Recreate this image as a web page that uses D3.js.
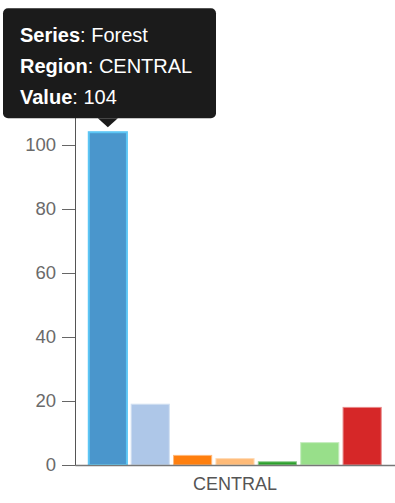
<!DOCTYPE html>
<html>
<head>
<meta charset="utf-8">
<script src="https://cdn.jsdelivr.net/npm/d3@7"></script>
<style>
  html, body { margin: 0; padding: 0; background: #fff; }
  svg { display: block; font-family: "Liberation Sans", Arial, sans-serif; }
</style>
</head>
<body>
<svg id="chart" width="395" height="503"></svg>
<script>
const regions = ["CENTRAL"];
const series = ["Forest", "Grassland", "Shrubland", "Wetland", "Water", "Cropland", "Urban"];
const values = [104, 19, 3, 2, 1, 7, 18];
const colors = ["#1f77b4", "#aec7e8", "#ff7f0e", "#ffbb78", "#2ca02c", "#98df8a", "#d62728"];
const yTicks = [0, 20, 40, 60, 80, 100, 120];
const hovered = { series: "Forest", region: "CENTRAL" };

const svg = d3.select("#chart");
const margin = { left: 75, right: 0, top: 81, bottom: 38 };
const W = 395, H = 503;
const FONT = "Liberation Sans, Arial, sans-serif";

const x0 = d3.scaleBand().domain(regions).range([margin.left, W - margin.right]).padding(0.045);
const x1 = d3.scaleBand().domain(series).range([0, x0.bandwidth()]).paddingInner(0.1).paddingOuter(0);
const y = d3.scaleLinear().domain([0, 120]).range([H - margin.bottom, margin.top]);
const color = d3.scaleOrdinal().domain(series).range(colors);

// y axis
const yAxis = svg.append("g")
  .attr("transform", `translate(${margin.left},0)`)
  .call(d3.axisLeft(y).tickValues(yTicks).tickSize(13).tickPadding(6));
yAxis.selectAll("text").attr("font-size", 18.5).attr("fill", "#6a6a6a").attr("font-family", FONT);
yAxis.selectAll("line").attr("stroke", "#666");
yAxis.select(".domain").attr("stroke", "#555");

// bars
const data = regions.map(r => ({ region: r, items: series.map((s, i) => ({ series: s, value: values[i], region: r })) }));
const isHov = d => d.series === hovered.series && d.region === hovered.region;
const groups = svg.append("g").selectAll("g").data(data).join("g")
  .attr("transform", d => `translate(${x0(d.region)},0)`);
groups.selectAll("rect").data(d => d.items).join("rect")
  .attr("x", d => x1(d.series))
  .attr("y", d => y(d.value))
  .attr("width", x1.bandwidth())
  .attr("height", d => y(0) - y(d.value))
  .attr("fill", d => isHov(d) ? "#4a96cc" : color(d.series))
  .attr("stroke", d => isHov(d) ? "#5cc6f5" : d3.interpolateRgb(color(d.series), "#fff")(0.45))
  .attr("stroke-width", d => isHov(d) ? 2 : 1);

// x axis
const xAxis = svg.append("g")
  .attr("transform", `translate(0,${y(0)})`)
  .call(d3.axisBottom(x0).tickSize(0).tickPadding(12));
xAxis.selectAll("text").attr("font-size", 18).attr("fill", "#555").attr("font-family", FONT);
xAxis.select(".domain").attr("stroke", "#777").attr("stroke-width", 1.5);

// tooltip
const hi = series.indexOf(hovered.series);
const cx = x0(hovered.region) + x1(hovered.series) + x1.bandwidth() / 2;
const tipY = y(values[hi]) - 5;
const arrowH = 9, boxW = 213, boxH = 110;
const bx = 3, by = tipY - arrowH - boxH;
const tip = svg.append("g");
tip.append("rect").attr("x", bx).attr("y", by).attr("width", boxW).attr("height", boxH)
  .attr("rx", 5).attr("fill", "#1b1b1b");
tip.append("path").attr("d", `M${cx - 10},${by + boxH} L${cx},${tipY} L${cx + 10},${by + boxH} Z`).attr("fill", "#1b1b1b");
const lines = [["Series", hovered.series], ["Region", hovered.region], ["Value", String(values[hi])]];
lines.forEach((l, i) => {
  const t = tip.append("text").attr("x", bx + 17).attr("y", by + 34 + i * 31)
    .attr("font-size", 20).attr("fill", "#fff").attr("font-family", FONT);
  t.append("tspan").attr("font-weight", "bold").text(l[0]);
  t.append("tspan").text(": " + l[1]);
});
</script>
</body>
</html>
